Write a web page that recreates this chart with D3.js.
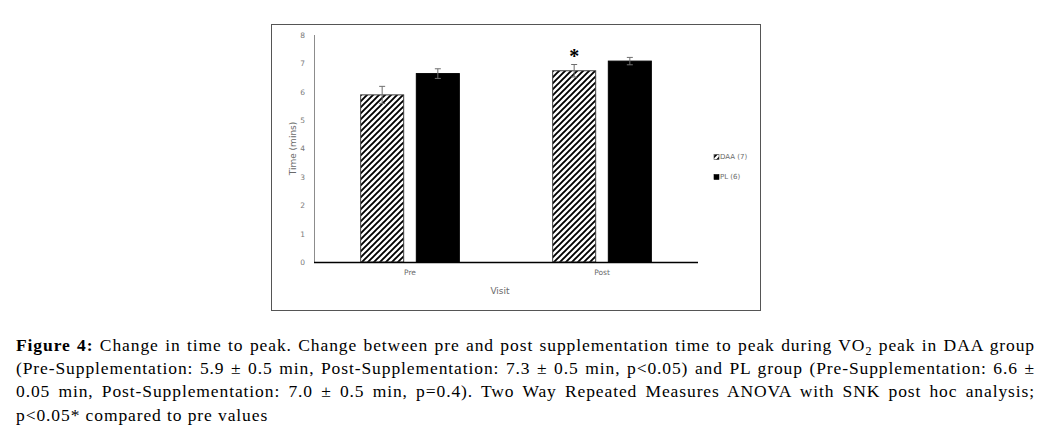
<!DOCTYPE html>
<html>
<head>
<meta charset="utf-8">
<script src="https://cdn.jsdelivr.net/npm/d3@7"></script>
<style>
  body { margin: 0; background: #fff; }
  svg { display: block; }
</style>
</head>
<body>
<svg id="chart"></svg>
<script>
// Data
const visits = ['Pre', 'Post'];
const groups = ['DAA (7)', 'PL (6)'];
const daaValues = [5.89, 6.74];
const plValues = [6.64, 7.08];
const daaErrors = [0.3, 0.22];
const plErrors = [0.17, 0.13];
const yTicks = [0, 1, 2, 3, 4, 5, 6, 7, 8];
const significant = [false, true];  // * compared to pre values (DAA)

const W = 1047, H = 437;
const svg = d3.select('#chart').attr('width', W).attr('height', H);

// hatch for DAA
const defs = svg.append('defs');
const pat = defs.append('pattern')
    .attr('id', 'hatch')
    .attr('patternUnits', 'userSpaceOnUse')
    .attr('width', 6).attr('height', 6);
pat.append('rect').attr('width', 6).attr('height', 6).attr('fill', '#fff');
pat.append('path')
    .attr('d', 'M0,6 L6,0 M-1.5,1.5 L1.5,-1.5 M4.5,7.5 L7.5,4.5')
    .attr('stroke', '#000').attr('stroke-width', 1.9);

// outer frame of the figure
svg.append('rect')
    .attr('x', 271.5).attr('y', 24.5)
    .attr('width', 489).attr('height', 286)
    .attr('fill', 'none').attr('stroke', '#555').attr('stroke-width', 1);

const plot = { left: 314, right: 698, top: 35, bottom: 262 };

const x = d3.scaleBand()
    .domain(visits)
    .range([plot.left, plot.right])
    .paddingInner(0.486)
    .paddingOuter(0.243);

const xSub = d3.scaleBand()
    .domain(groups)
    .range([0, x.bandwidth()])
    .paddingInner(0.227);

const y = d3.scaleLinear().domain([0, 8]).range([plot.bottom, plot.top]);

const series = [
    { name: groups[0], values: daaValues, errors: daaErrors, fill: 'url(#hatch)', stroke: '#404040' },
    { name: groups[1], values: plValues, errors: plErrors, fill: '#000', stroke: '#000' }
];

// y axis
const yAxis = svg.append('g')
    .attr('transform', `translate(${plot.left},0)`)
    .call(d3.axisLeft(y).tickValues(yTicks).tickSize(0).tickPadding(9).tickFormat(d3.format('d')));
yAxis.select('.domain').attr('stroke', '#8c8c8c').attr('d', `M0.5,${plot.top}V${plot.bottom}`);
yAxis.selectAll('text')
    .attr('fill', '#7a7a7a')
    .style('font-family', 'DejaVu Sans')
    .style('font-size', '7.5px');

// bars
series.forEach(s => {
    const g = svg.append('g');
    g.selectAll('rect')
        .data(visits)
        .enter()
        .append('rect')
        .attr('x', d => x(d) + xSub(s.name))
        .attr('y', (d, i) => y(s.values[i]))
        .attr('width', xSub.bandwidth())
        .attr('height', (d, i) => y(0) - y(s.values[i]))
        .attr('fill', s.fill)
        .attr('stroke', s.stroke)
        .attr('stroke-width', 1);

    // error bars
    const eb = g.selectAll('.err')
        .data(visits)
        .enter()
        .append('g')
        .attr('class', 'err');
    const cx = d => x(d) + xSub(s.name) + xSub.bandwidth() / 2;
    eb.append('line')
        .attr('x1', cx).attr('x2', cx)
        .attr('y1', (d, i) => y(s.values[i] - s.errors[i]))
        .attr('y2', (d, i) => y(s.values[i] + s.errors[i]));
    eb.append('line')
        .attr('x1', d => cx(d) - 3).attr('x2', d => cx(d) + 3)
        .attr('y1', (d, i) => y(s.values[i] + s.errors[i]))
        .attr('y2', (d, i) => y(s.values[i] + s.errors[i]));
    eb.append('line')
        .attr('x1', d => cx(d) - 3).attr('x2', d => cx(d) + 3)
        .attr('y1', (d, i) => y(s.values[i] - s.errors[i]))
        .attr('y2', (d, i) => y(s.values[i] - s.errors[i]));
    eb.selectAll('line').attr('stroke', '#6e6e6e').attr('stroke-width', 1);
});

// significance asterisk
svg.selectAll('.star')
    .data(visits.filter((d, i) => significant[i]))
    .enter()
    .append('text')
    .attr('class', 'star')
    .attr('x', d => x(d) + xSub(groups[0]) + xSub.bandwidth() / 2)
    .attr('y', d => y(daaValues[visits.indexOf(d)] + daaErrors[visits.indexOf(d)]) - 2)
    .attr('text-anchor', 'middle')
    .style('font-family', 'Liberation Serif')
    .style('font-weight', 'bold')
    .style('font-size', '20px')
    .attr('fill', '#000')
    .text('*');

// x axis
const xAxis = svg.append('g')
    .attr('transform', `translate(0,${plot.bottom})`)
    .call(d3.axisBottom(x).tickSize(0).tickPadding(8));
xAxis.select('.domain').attr('stroke', '#000').attr('stroke-width', 1.5)
    .attr('d', `M${plot.left},0.5H${plot.right}`);
xAxis.selectAll('text')
    .attr('fill', '#6a6a6a')
    .style('font-family', 'DejaVu Sans')
    .style('font-size', '7.5px');

// axis titles
svg.append('text')
    .attr('x', (plot.left + plot.right) / 2 - 6)
    .attr('y', 294)
    .attr('text-anchor', 'middle')
    .attr('fill', '#6a6a6a')
    .style('font-family', 'DejaVu Sans')
    .style('font-size', '9px')
    .text('Visit');

svg.append('text')
    .attr('transform', `translate(296,${(plot.top + plot.bottom) / 2}) rotate(-90)`)
    .attr('text-anchor', 'middle')
    .attr('fill', '#6a6a6a')
    .style('font-family', 'DejaVu Sans')
    .style('font-size', '9px')
    .text('Time (mins)');

// legend
const legend = svg.append('g').attr('transform', 'translate(714,157)');
series.forEach((s, i) => {
    const row = legend.append('g').attr('transform', `translate(0,${i * 20})`);
    row.append('rect')
        .attr('x', 0).attr('y', -2.5)
        .attr('width', 5).attr('height', 5)
        .attr('fill', s.fill)
        .attr('stroke', s.stroke).attr('stroke-width', 0.6);
    row.append('text')
        .attr('x', 6).attr('y', 0)
        .attr('dy', '0.35em')
        .attr('fill', '#6a6a6a')
        .style('font-family', 'DejaVu Sans')
        .style('font-size', '7px')
        .text(s.name);
});

// caption
const captionLines = [
    [{ t: 'Figure 4:', b: true }, { t: ' Change in time to peak. Change between pre and post supplementation time to peak during VO' }, { t: '2', sub: true }, { t: ' peak in DAA group', after: true }],
    [{ t: '(Pre-Supplementation: 5.9 \u00b1 0.5 min, Post-Supplementation: 7.3 \u00b1 0.5 min, p<0.05) and PL group (Pre-Supplementation: 6.6 \u00b1' }],
    [{ t: '0.05 min, Post-Supplementation: 7.0 \u00b1 0.5 min, p=0.4). Two Way Repeated Measures ANOVA with SNK post hoc analysis;' }],
    [{ t: 'p<0.05* compared to pre values' }]
];
const capLeft = 16, capRight = 1035;
captionLines.forEach((parts, i) => {
    const txt = svg.append('text')
        .attr('x', capLeft)
        .attr('y', 351 + i * 23.2)
        .attr('fill', '#000')
        .style('font-family', 'Liberation Serif')
        .style('font-size', '17.5px')
        .style('letter-spacing', '0.9px')
        .style('white-space', 'pre');
    parts.forEach(p => {
        const ts = txt.append('tspan').text(p.t);
        if (p.b) ts.style('font-weight', 'bold');
        if (p.sub) ts.attr('dy', 4).style('font-size', '12px');
        if (p.after) ts.attr('dy', -4);
    });
    // justify all but last line
    if (i < captionLines.length - 1) {
        const natural = txt.node().getComputedTextLength();
        const spaces = parts.map(p => p.t).join('').split(' ').length - 1;
        const ws = (capRight - capLeft - natural) / spaces;
        txt.style('word-spacing', ws + 'px');
    }
});
</script>
</body>
</html>
